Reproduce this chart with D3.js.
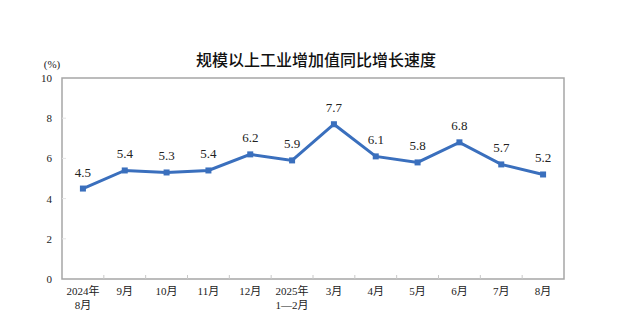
<!DOCTYPE html>
<html><head><meta charset="utf-8">
<script src="https://cdn.jsdelivr.net/npm/d3@7"></script>
<style>body{margin:0;background:#fff}svg{display:block}</style>
</head><body>
<svg id="c" width="636" height="326"></svg>
<script>
const categories = ["2024年\n8月","9月","10月","11月","12月","2025年\n1—2月","3月","4月","5月","6月","7月","8月"];
const values = [4.5,5.4,5.3,5.4,6.2,5.9,7.7,6.1,5.8,6.8,5.7,5.2];
const yTicks = [0,2,4,6,8,10];
const title = "规模以上工业增加值同比增长速度";
const unit = "(%)";

const svg = d3.select("#c");
const m = {l:62, r:564, t:78, b:279};
const serif = "'Liberation Serif','Noto Sans CJK SC',serif";
const x = d3.scaleBand().domain(d3.range(categories.length)).range([m.l, m.r]);
const y = d3.scaleLinear().domain([0,10]).range([m.b, m.t]);

svg.append("text").attr("x",316).attr("y",66).attr("text-anchor","middle")
  .attr("font-family","'Noto Sans CJK SC',sans-serif").attr("font-size",16).attr("font-weight",500)
  .attr("fill","#111").text(title);
svg.append("text").attr("x",52).attr("y",68).attr("text-anchor","middle")
  .attr("font-family",serif).attr("font-size",11).attr("fill","#222").text(unit);

// frame
svg.append("rect").attr("x",m.l).attr("y",m.t).attr("width",m.r-m.l).attr("height",m.b-m.t)
  .attr("fill","none").attr("stroke","#a6a6a6").attr("stroke-width",1.5);

// y axis
const ya = svg.append("g").attr("transform",`translate(${m.l},0)`)
  .call(d3.axisLeft(y).tickValues(yTicks).tickSize(0).tickPadding(10));
ya.select(".domain").remove();
ya.selectAll("text").attr("font-family",serif).attr("font-size",11).attr("fill","#222");
svg.append("g").selectAll("line").data(yTicks.slice(1,-1)).join("line")
  .attr("x1",m.l).attr("x2",m.l+4).attr("y1",d=>y(d)).attr("y2",d=>y(d))
  .attr("stroke","#e3e3e3");

// x ticks at band boundaries
svg.append("g").selectAll("line").data(d3.range(1,categories.length)).join("line")
  .attr("x1",i=>x(i)).attr("x2",i=>x(i)).attr("y1",m.b).attr("y2",m.b-4)
  .attr("stroke","#c8c8c8");

// x labels
const xl = svg.append("g").selectAll("text").data(categories).join("text")
  .attr("x",(d,i)=>x(i)+x.bandwidth()/2).attr("y",295).attr("text-anchor","middle")
  .attr("font-family",serif).attr("font-size",11).attr("fill","#222");
xl.each(function(d){
  const t = d3.select(this);
  d.split("\n").forEach((s,k)=>t.append("tspan").attr("x",t.attr("x")).attr("dy",k?14:0).text(s));
});

// line
const cx = i=>x(i)+x.bandwidth()/2;
svg.append("path").datum(values)
  .attr("d",d3.line().x((d,i)=>cx(i)).y(d=>y(d)))
  .attr("fill","none").attr("stroke","#3a6fbd").attr("stroke-width",3).attr("stroke-linejoin","miter");
svg.append("g").selectAll("rect").data(values).join("rect")
  .attr("x",(d,i)=>cx(i)-3).attr("y",d=>y(d)-3).attr("width",6).attr("height",6).attr("fill","#3a6fbd");

// data labels
svg.append("g").selectAll("text").data(values).join("text")
  .attr("x",(d,i)=>cx(i)).attr("y",d=>y(d)-12).attr("text-anchor","middle")
  .attr("font-family",serif).attr("font-size",13).attr("fill","#222")
  .text(d=>d.toFixed(1));
</script>
</body></html>
